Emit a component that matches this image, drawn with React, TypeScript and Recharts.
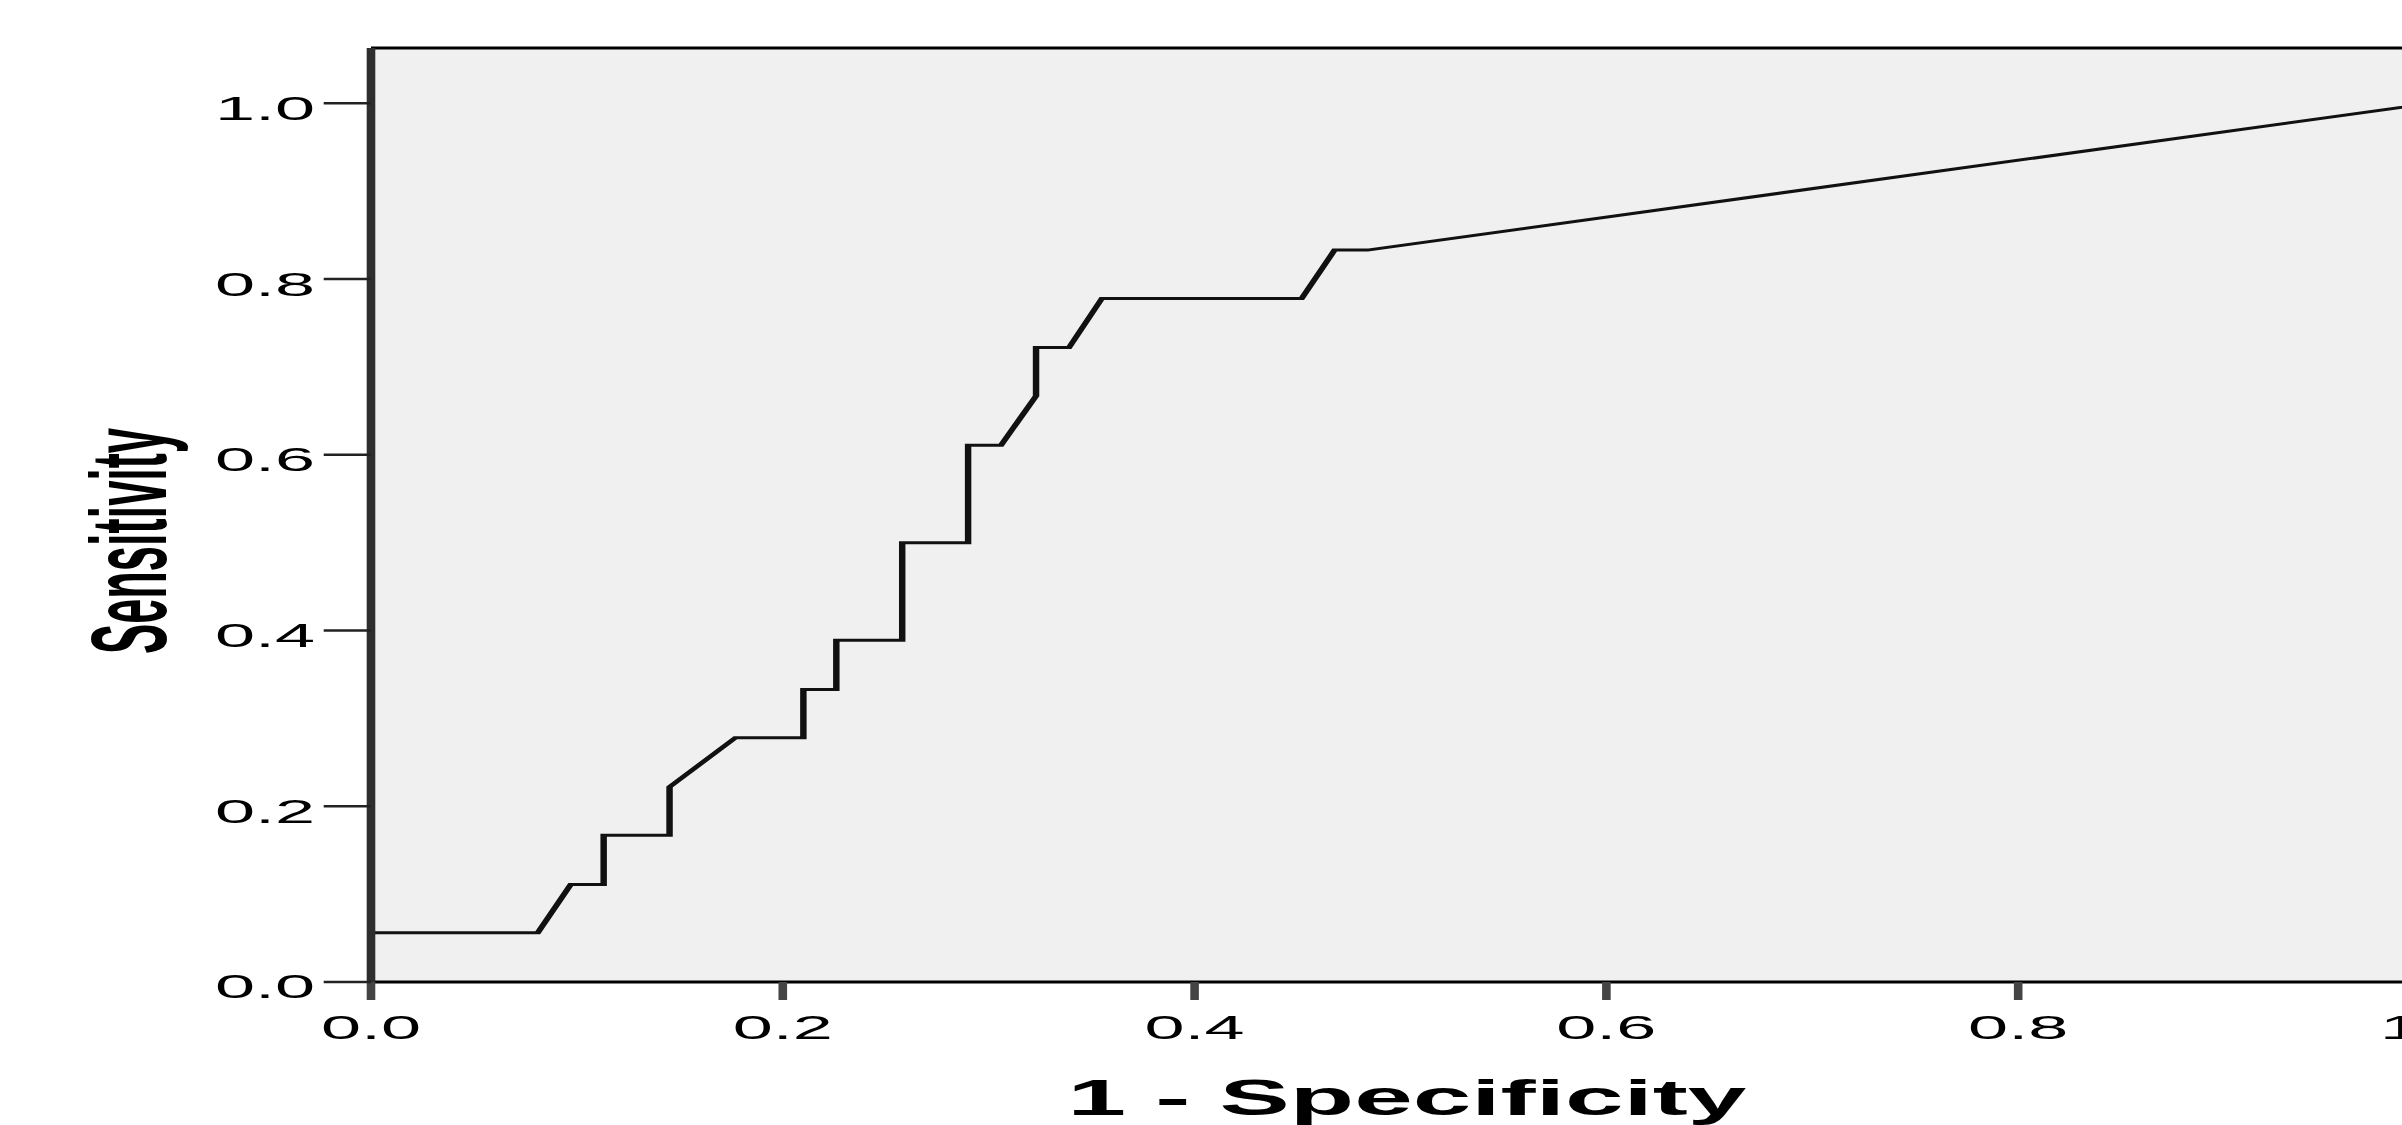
import React from 'react';
import { LineChart, Line, XAxis, YAxis, ReferenceArea, ReferenceLine, Label } from 'recharts';

// ROC curve points
const falsePositiveRate = [0, 0, 0.081, 0.097, 0.113, 0.113, 0.145, 0.145, 0.177, 0.21, 0.21, 0.226, 0.226, 0.258, 0.258, 0.29, 0.29, 0.306, 0.323, 0.323, 0.339, 0.355, 0.452, 0.468, 0.484, 1.0];
const sensitivity = [0, 0.056, 0.056, 0.111, 0.111, 0.167, 0.167, 0.222, 0.278, 0.278, 0.333, 0.333, 0.389, 0.389, 0.5, 0.5, 0.611, 0.611, 0.667, 0.722, 0.722, 0.778, 0.778, 0.833, 0.833, 1.0];
const xTicks = [0, 0.2, 0.4, 0.6, 0.8, 1.0];
const yTicks = [0, 0.2, 0.4, 0.6, 0.8, 1.0];
const xTitle = '1 - Specificity';
const yTitle = 'Sensitivity';
const yMax = 1.063;

const data = falsePositiveRate.map((x, i) => ({ fpr: x, tpr: sensitivity[i] }));

const S = 2.15; // horizontal stretch of the whole picture
const PLOT_LEFT = 371 / S;
const PLOT_WIDTH = 2059 / S;
const RIGHT = 30;
const CHART_W = PLOT_LEFT + PLOT_WIDTH + RIGHT;
const CHART_H = 1125;
const FONT = '"Liberation Sans", Arial, sans-serif';

const XTick = (props: any) => {
  const { x, y, payload } = props;
  return (
    <text x={x} y={y} dy={24} textAnchor="middle" fontSize={33.5} fontFamily={FONT} fill="#000">
      {Number(payload.value).toFixed(1)}
    </text>
  );
};

const YTick = (props: any) => {
  const { x, y, payload } = props;
  return (
    <text x={x} y={y} dy={16.5} textAnchor="end" fontSize={33.5} fontFamily={FONT} fill="#000">
      {Number(payload.value).toFixed(1)}
    </text>
  );
};

const XTitle = (p: any) => {
  const vb = p && p.viewBox;
  const cx = vb && typeof vb.x === 'number' ? vb.x + vb.width / 2 + 3 : 655;
  return (
    <text x={cx} y={1115} textAnchor="middle" fontSize={49} fontWeight="bold" fontFamily={FONT} fill="#000">
      {xTitle}
    </text>
  );
};

const YTitle = (p: any) => {
  const vb = p && p.viewBox;
  const cy = vb && typeof vb.y === 'number' ? vb.y + vb.height / 2 + 26 : 541;
  const cx = 77;
  return (
    <text
      x={cx}
      y={cy}
      transform={`rotate(-90 ${cx} ${cy})`}
      textAnchor="middle"
      fontSize={50}
      fontWeight="bold"
      fontFamily={FONT}
      fill="#000"
      textLength={226}
      lengthAdjust="spacingAndGlyphs"
    >
      {yTitle}
    </text>
  );
};

export default function App() {
  return (
    <div style={{ position: 'absolute', left: 0, top: 0, width: 2402, height: 1125, overflow: 'hidden', background: '#fff' }}>
      <div style={{ width: CHART_W, height: CHART_H, transform: `scaleX(${S})`, transformOrigin: '0 0' }}>
        <LineChart
          width={CHART_W}
          height={CHART_H}
          data={data}
          margin={{ top: 48, right: RIGHT, bottom: 43, left: 0 }}
        >
          <ReferenceArea x1={0} x2={1} y1={0} y2={yMax} fill="#f0f0f0" fillOpacity={1} stroke="none" ifOverflow="visible" />
          <ReferenceLine y={yMax} stroke="#000" strokeWidth={3} ifOverflow="visible" />
          <XAxis
            type="number"
            dataKey="fpr"
            domain={[0, 1]}
            ticks={xTicks}
            height={100}
            tickSize={18}
            tickMargin={15}
            axisLine={{ stroke: '#000', strokeWidth: 3 }}
            tickLine={{ stroke: '#444', strokeWidth: 4 }}
            tick={(p: any) => <XTick {...p} />}
            interval={0}
          >
            <Label content={(p: any) => <XTitle {...p} />} />
          </XAxis>
          <YAxis
            type="number"
            dataKey="tpr"
            domain={[0, yMax]}
            ticks={yTicks}
            width={PLOT_LEFT}
            tickSize={22}
            tickMargin={4}
            axisLine={{ stroke: '#2e2e2e', strokeWidth: 4 }}
            tickLine={{ stroke: '#222', strokeWidth: 2.5 }}
            tick={(p: any) => <YTick {...p} />}
            interval={0}
          >
            <Label content={(p: any) => <YTitle {...p} />} />
          </YAxis>
          <Line
            type="linear"
            dataKey="tpr"
            stroke="#111"
            strokeWidth={3}
            dot={false}
            activeDot={false}
            isAnimationActive={false}
          />
        </LineChart>
      </div>
    </div>
  );
}
